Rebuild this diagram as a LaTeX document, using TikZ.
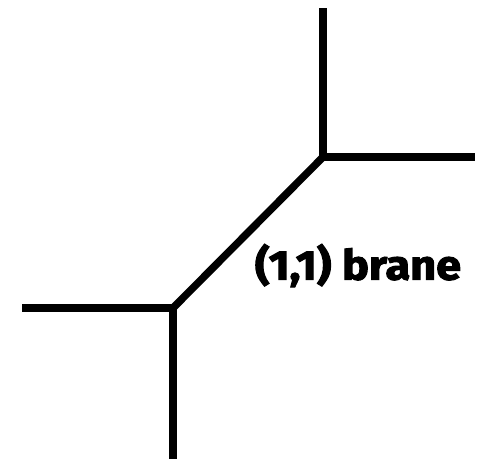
\documentclass[tikz,border=0pt]{standalone}
\usepackage{fontspec}
\usepackage{graphicx}
\setmainfont{Fira Sans}
\newfontfamily\heavyfont[BoldFeatures={FakeBold=2.5}]{Fira Sans}
\tikzset{brane/.style={line width=7.5pt, line cap=butt, line join=miter},
  lbl/.style={inner sep=0pt, font=\heavyfont\bfseries}}
\begin{document}
\begin{tikzpicture}[x=1pt,y=-1pt]
\useasboundingbox (0,0) rectangle (488,459);
\coordinate (A) at (323,157);
\coordinate (B) at (173,308);
\coordinate (Atop) at (323,8);
\coordinate (Aright) at (475,157);
\coordinate (Bleft) at (22,308);
\coordinate (Bbot) at (173,459);
\draw[brane] (Atop) -- (A) -- (Aright);
\draw[brane] (A) -- (B);
\draw[brane] (Bleft) -- (B) -- (Bbot);
\node[lbl] (label) at (358,265.5) {\resizebox*{206pt}{43pt}{(1,1) brane}};
\end{tikzpicture}
\end{document}
